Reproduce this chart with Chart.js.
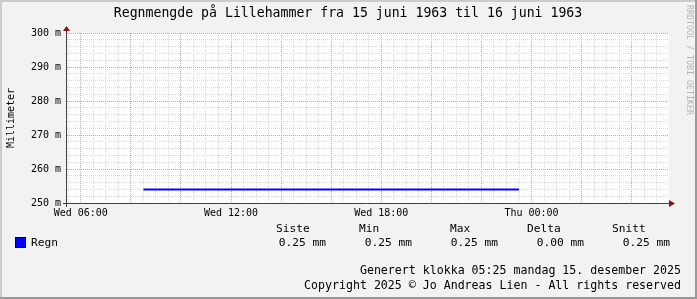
<!DOCTYPE html>
<html>
<head>
<meta charset="utf-8">
<script src="https://cdn.jsdelivr.net/npm/chart.js@4.4.1/dist/chart.umd.min.js"></script>
<style>
  body { margin: 0; background: #f2f2f2; }
  canvas { display: block; }
</style>
</head>
<body>
<canvas id="chart" width="697" height="299"></canvas>
<script>
// time in hours since Wed 00:00, value in milli-mm (250 m = 0.25 mm)
const times = [8.5, 23.5];
const rain = [254, 254];

const xStart = 5.45;   // about Wed 05:27
const xEnd = 29.45;    // about Thu 05:27
const yTicks = [250, 252, 254, 256, 258, 260, 262, 264, 266, 268, 270, 272, 274, 276, 278, 280, 282, 284, 286, 288, 290, 292, 294, 296, 298, 300];
const xTicks = [5.5, 6, 6.5, 7, 7.5, 8, 8.5, 9, 9.5, 10, 10.5, 11, 11.5, 12, 12.5, 13, 13.5, 14, 14.5, 15, 15.5, 16, 16.5, 17, 17.5, 18, 18.5, 19, 19.5, 20, 20.5, 21, 21.5, 22, 22.5, 23, 23.5, 24, 24.5, 25, 25.5, 26, 26.5, 27, 27.5, 28, 28.5, 29];

const title = 'Regnmengde på Lillehammer fra 15 juni 1963 til 16 juni 1963';
const seriesName = 'Regn';
const statHeaders = ['Siste', 'Min', 'Max', 'Delta', 'Snitt'];
const statValues = ['0.25 mm', '0.25 mm', '0.25 mm', '0.00 mm', '0.25 mm'];
const footer1 = 'Generert klokka 05:25 mandag 15. desember 2025';
const footer2 = 'Copyright 2025 © Jo Andreas Lien - All rights reserved';
const watermark = 'RRDTOOL / TOBI OETIKER';

const mono = "'DejaVu Sans Mono', monospace";
const gridMinor = '#dadada';
const gridMajor = '#e89696';

function hourLabel(h) {
    const day = h < 24 ? 'Wed' : 'Thu';
    const hh = String(h % 24).padStart(2, '0');
    return day + ' ' + hh + ':00';
}

// background, frame and extra texts
const rrdLook = {
    id: 'rrdLook',
    beforeDraw(chart) {
        const ctx = chart.ctx;
        const a = chart.chartArea;
        ctx.save();
        ctx.fillStyle = '#f2f2f2';
        ctx.fillRect(0, 0, chart.width, chart.height);
        ctx.fillStyle = '#ffffff';
        ctx.fillRect(a.left, a.top, a.right - a.left + 1, a.bottom - a.top);
        // 3d frame
        ctx.fillStyle = '#cbcbcb';
        ctx.fillRect(0, 0, chart.width, 2);
        ctx.fillRect(0, 0, 2, chart.height);
        ctx.fillStyle = '#999999';
        ctx.fillRect(0, chart.height - 2, chart.width, 2);
        ctx.fillRect(chart.width - 2, 0, 2, chart.height);
        ctx.restore();
    },
    afterDraw(chart) {
        const ctx = chart.ctx;
        const a = chart.chartArea;
        ctx.save();
        // axes
        ctx.strokeStyle = '#404040';
        ctx.lineWidth = 1;
        ctx.beginPath();
        ctx.moveTo(a.left - 0.5, a.top - 2);
        ctx.lineTo(a.left - 0.5, a.bottom + 4);
        ctx.moveTo(a.left - 4, a.bottom + 0.5);
        ctx.lineTo(a.right + 2, a.bottom + 0.5);
        ctx.stroke();
        // arrows
        ctx.fillStyle = '#8b1010';
        ctx.beginPath();
        ctx.moveTo(a.left - 4, a.top - 2);
        ctx.lineTo(a.left + 3, a.top - 2);
        ctx.lineTo(a.left - 0.5, a.top - 7);
        ctx.closePath();
        ctx.fill();
        ctx.beginPath();
        ctx.moveTo(a.right + 1, a.bottom - 3);
        ctx.lineTo(a.right + 1, a.bottom + 4);
        ctx.lineTo(a.right + 7, a.bottom + 0.5);
        ctx.closePath();
        ctx.fill();

        ctx.fillStyle = '#000000';
        ctx.textBaseline = 'middle';
        // title
        ctx.font = '13.2px ' + mono;
        ctx.textAlign = 'center';
        ctx.fillText(title, 348, 14);
        // legend
        ctx.font = '11.2px ' + mono;
        ctx.textAlign = 'left';
        ctx.fillStyle = '#0000ff';
        ctx.fillRect(15.5, 237.5, 10, 10);
        ctx.strokeStyle = '#000000';
        ctx.strokeRect(15.5, 237.5, 10, 10);
        ctx.fillStyle = '#000000';
        ctx.fillText(seriesName, 31, 243);
        const headX = [276, 359, 450, 527, 612];
        statHeaders.forEach((h, i) => ctx.fillText(h, headX[i], 229));
        ctx.textAlign = 'right';
        const valX = [326, 412, 498, 584, 670];
        statValues.forEach((v, i) => ctx.fillText(v, valX[i], 243));
        ctx.font = '11.6px ' + mono;
        ctx.fillText(footer1, 681, 271);
        ctx.fillText(footer2, 681, 286);
        // watermark
        ctx.translate(689, 60);
        ctx.rotate(Math.PI / 2);
        ctx.textAlign = 'center';
        ctx.font = '8.3px ' + mono;
        ctx.fillStyle = '#b4b4b4';
        ctx.fillText(watermark, 0, 0);
        ctx.restore();
    }
};

const ctx = document.getElementById('chart').getContext('2d');
new Chart(ctx, {
    type: 'line',
    data: {
        datasets: [{
            label: seriesName,
            data: times.map((t, i) => ({ x: t, y: rain[i] })),
            borderColor: '#0000ff',
            borderWidth: 2,
            pointRadius: 0,
            fill: false,
            tension: 0
        }]
    },
    options: {
        responsive: false,
        animation: false,
        devicePixelRatio: 1,
        layout: { padding: { left: 0, right: 29, top: 33, bottom: 0 } },
        plugins: {
            legend: { display: false },
            title: { display: false },
            tooltip: { enabled: false }
        },
        scales: {
            x: {
                type: 'linear',
                min: xStart,
                max: xEnd,
                afterFit(scale) { scale.height = 96; },
                afterBuildTicks(scale) { scale.ticks = xTicks.map(v => ({ value: v })); },
                grid: {
                    drawTicks: false,
                    color: c => (c.tick && c.tick.value % 2 === 0) ? gridMajor : gridMinor,
                    lineWidth: 1
                },
                border: { display: false, dash: [1, 1] },
                ticks: {
                    autoSkip: false,
                    maxRotation: 0,
                    padding: 4,
                    color: '#000000',
                    font: { family: mono, size: 10 },
                    callback: v => (v % 6 === 0) ? hourLabel(v) : ''
                }
            },
            y: {
                min: 250,
                max: 300,
                afterFit(scale) { scale.width = 67; },
                afterBuildTicks(scale) { scale.ticks = yTicks.map(v => ({ value: v })); },
                grid: {
                    drawTicks: false,
                    color: c => (c.tick && c.tick.value % 10 === 0) ? gridMajor : gridMinor,
                    lineWidth: 1
                },
                border: { display: false, dash: [1, 1] },
                ticks: {
                    autoSkip: false,
                    padding: 6,
                    color: '#000000',
                    font: { family: mono, size: 10 },
                    callback: v => (v % 10 === 0) ? v + ' m' : ''
                },
                title: {
                    display: true,
                    text: 'Millimeter',
                    color: '#000000',
                    font: { family: mono, size: 10 },
                    padding: { top: 5, bottom: 0 }
                }
            }
        }
    },
    plugins: [rrdLook]
});
</script>
</body>
</html>
